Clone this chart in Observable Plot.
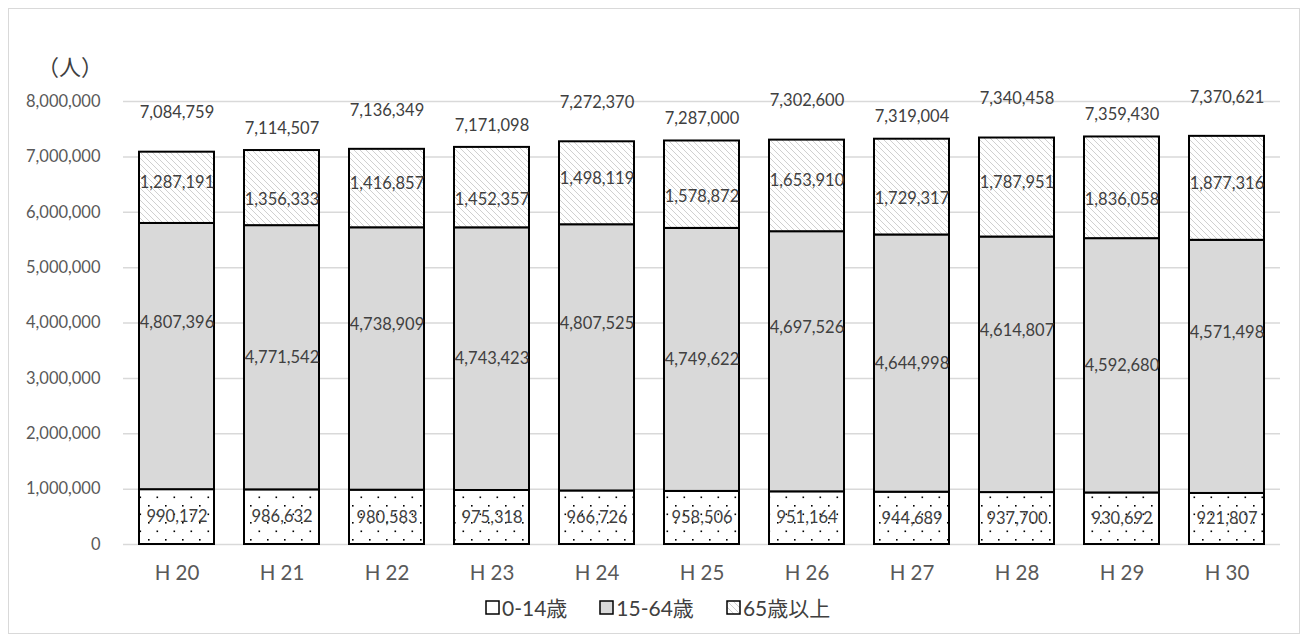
<!DOCTYPE html>
<html>
<head>
<meta charset="utf-8">
<script src="https://cdn.jsdelivr.net/npm/d3@7"></script>
<script src="https://cdn.jsdelivr.net/npm/@observablehq/plot@0.6"></script>
<style>
  html, body { margin: 0; padding: 0; background: #fff; }
  body { width: 1308px; height: 642px; position: relative; font-family: Lato, "Noto Sans CJK JP", sans-serif; }
  #frame { position: absolute; left: 8px; top: 8px; width: 1290px; height: 624px; border: 1px solid #d9d9d9; }
  #unit { position: absolute; left: 28px; top: 40px; font-size: 22px; color: #404040; font-family: "Noto Sans CJK JP", sans-serif; }
  #chart { position: absolute; left: 0; top: 0; }
  #legend { position: absolute; top: 583px; left: 476px; display: flex; gap: 32px; font-size: 21px; color: #404040; font-family: Lato, "Noto Sans CJK JP", sans-serif; }
  .item { display: flex; align-items: center; gap: 2px; }
</style>
</head>
<body>
<div id="frame">
  <div id="chart"></div>
  <div id="unit">（人）</div>
  <div id="legend">
    <div class="item"><svg width="15" height="15"><rect x="1" y="1" width="13" height="13" fill="#fff" stroke="#000" stroke-width="1.5"/></svg><span>0-14歳</span></div>
    <div class="item"><svg width="15" height="15"><rect x="1" y="1" width="13" height="13" fill="#d9d9d9" stroke="#000" stroke-width="1.5"/></svg><span>15-64歳</span></div>
    <div class="item"><svg width="15" height="15"><defs><pattern id="lgStripes" width="6" height="6" patternUnits="userSpaceOnUse"><path d="M0,0L6,6M-2,4L2,8M4,-2L8,2" stroke="#d0d0d0" stroke-width="1"/></pattern></defs><rect x="1" y="1" width="13" height="13" fill="url(#lgStripes)" stroke="#000" stroke-width="1.5"/></svg><span>65歳以上</span></div>
  </div>
</div>
<script>
const years = ["H20","H21","H22","H23","H24","H25","H26","H27","H28","H29","H30"];
const age0_14 = [990172, 986632, 980583, 975318, 966726, 958506, 951164, 944689, 937700, 930692, 921807];
const age15_64 = [4807396, 4771542, 4738909, 4743423, 4807525, 4749622, 4697526, 4644998, 4614807, 4592680, 4571498];
const age65 = [1287191, 1356333, 1416857, 1452357, 1498119, 1578872, 1653910, 1729317, 1787951, 1836058, 1877316];
const yTicks = [0, 1000000, 2000000, 3000000, 4000000, 5000000, 6000000, 7000000, 8000000];

const rows = years.map((year, i) => {
  const a = age0_14[i], b = age15_64[i], c = age65[i];
  return {year, i, a, b, c, y0: 0, y1: a, y2: a + b, y3: a + b + c};
});
const even = rows.filter(d => d.i % 2 === 0);
const odd = rows.filter(d => d.i % 2 === 1);
const fmt = d3.format(",");
const labelStyle = {fontSize: 16.5, fill: "#404040", fontFamily: "Lato, sans-serif"};

const plot = Plot.plot({
  width: 1290,
  height: 580,
  marginLeft: 114,
  marginRight: 19,
  marginTop: 92,
  marginBottom: 45,
  style: {fontFamily: "Lato, 'Noto Sans CJK JP', sans-serif", background: "transparent"},
  x: {domain: years, paddingInner: 0.287, paddingOuter: 0.1435, label: null},
  y: {domain: [0, 8000000], label: null},
  marks: [
    Plot.ruleY(yTicks, {stroke: "#d9d9d9", strokeWidth: 1.5}),
    Plot.axisY({ticks: yTicks, tickFormat: d => fmt(d), tickSize: 0, tickPadding: 23, fontSize: 16.5, color: "#595959", label: null}),
    Plot.axisX({tickSize: 0, tickPadding: 21, fontSize: 20.5, color: "#595959", label: null, tickFormat: d => d.replace("H", "H ")}),
    Plot.barY(rows, {x: "year", y1: "y0", y2: "y1", fill: "url(#dots)", stroke: "#000", strokeWidth: 2}),
    Plot.barY(rows, {x: "year", y1: "y1", y2: "y2", fill: "#d9d9d9", stroke: "#000", strokeWidth: 2}),
    Plot.barY(rows, {x: "year", y1: "y2", y2: "y3", fill: "url(#stripes)", stroke: "#000", strokeWidth: 2}),
    // 0-14 labels
    Plot.text(rows, {x: "year", y: d => d.a / 2, text: d => fmt(d.a), ...labelStyle}),
    // 15-64 labels
    Plot.text(even, {x: "year", y: d => d.a + d.b / 2, dy: -34, text: d => fmt(d.b), ...labelStyle}),
    Plot.text(odd, {x: "year", y: d => d.a + d.b / 2, text: d => fmt(d.b), ...labelStyle}),
    // 65+ labels
    Plot.text(even, {x: "year", y: d => d.y2 + d.c / 2, dy: -5, text: d => fmt(d.c), ...labelStyle}),
    Plot.text(odd, {x: "year", y: d => d.y2 + d.c / 2, dy: 12, text: d => fmt(d.c), ...labelStyle}),
    // totals
    Plot.text(even, {x: "year", y: "y3", dy: -39, text: d => fmt(d.y3), ...labelStyle}),
    Plot.text(odd, {x: "year", y: "y3", dy: -22, text: d => fmt(d.y3), ...labelStyle})
  ]
});

const svg = d3.select(plot);
const defs = svg.insert("defs", ":first-child");
const dots = defs.append("pattern").attr("id", "dots").attr("width", 17).attr("height", 17).attr("patternUnits", "userSpaceOnUse");
dots.append("rect").attr("width", 17).attr("height", 17).attr("fill", "#fff");
dots.append("rect").attr("x", 3).attr("y", 3).attr("width", 1.6).attr("height", 1.6).attr("fill", "#000");
dots.append("rect").attr("x", 11.5).attr("y", 11.5).attr("width", 1.6).attr("height", 1.6).attr("fill", "#000");
const stripes = defs.append("pattern").attr("id", "stripes").attr("width", 6).attr("height", 6).attr("patternUnits", "userSpaceOnUse");
stripes.append("rect").attr("width", 6).attr("height", 6).attr("fill", "#fff");
stripes.append("path").attr("d", "M0,0L6,6M-2,4L2,8M4,-2L8,2").attr("stroke", "#d0d0d0").attr("stroke-width", 1);

document.getElementById("chart").appendChild(plot);
</script>
</body>
</html>
